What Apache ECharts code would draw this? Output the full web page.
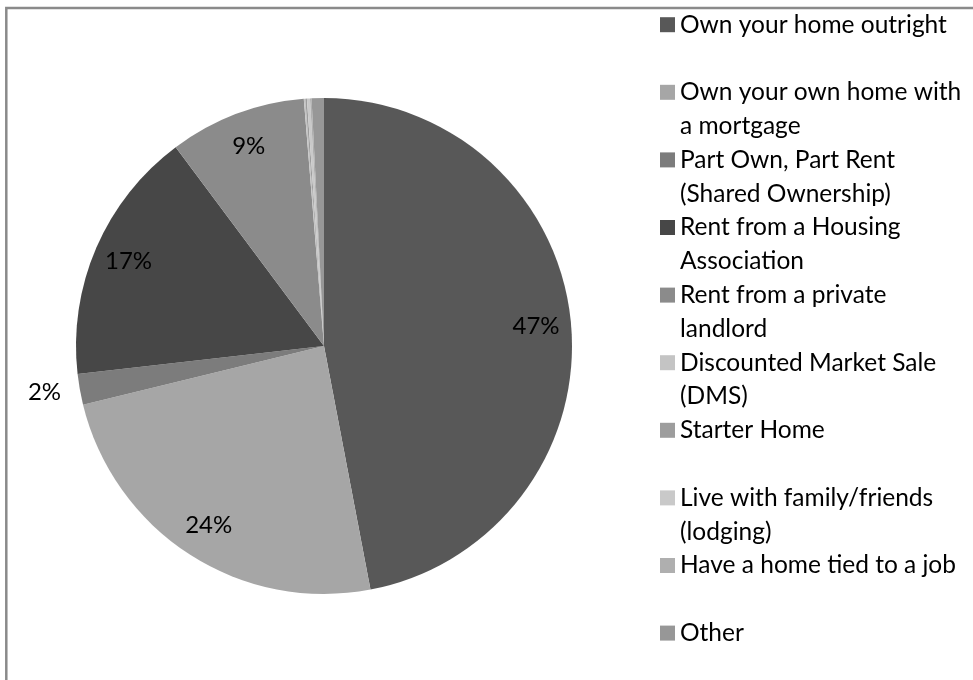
<!DOCTYPE html>
<html>
<head>
<meta charset="utf-8">
<script src="https://cdn.jsdelivr.net/npm/echarts@6/dist/echarts.min.js"></script>
<style>
  html, body { margin: 0; padding: 0; background: #ffffff; }
  #chart { width: 973px; height: 680px; }
</style>
</head>
<body>
<div id="chart"></div>
<script>
// Housing tenure, share of respondents (%)
const categories = [
  'Own your home outright',
  'Own your own home with a mortgage',
  'Part Own, Part Rent (Shared Ownership)',
  'Rent from a Housing Association',
  'Rent from a private landlord',
  'Discounted Market Sale (DMS)',
  'Starter Home',
  'Live with family/friends (lodging)',
  'Have a home tied to a job',
  'Other'
];
const shares = [47.0, 24.2, 2.0, 16.6, 8.9, 0.1, 0.1, 0.2, 0.1, 0.8];

// Legend text as it wraps in the key
const legendLines = [
  ['Own your home outright', ''],
  ['Own your own home with', 'a mortgage'],
  ['Part Own, Part Rent', '(Shared Ownership)'],
  ['Rent from a Housing', 'Association'],
  ['Rent from a private', 'landlord'],
  ['Discounted Market Sale', '(DMS)'],
  ['Starter Home', ''],
  ['Live with family/friends', '(lodging)'],
  ['Have a home tied to a job', ''],
  ['Other', '']
];

const sliceColors = [
  '#585858', '#a6a6a6', '#7c7c7c', '#474747', '#8b8b8b',
  '#c4c4c4', '#9d9d9d', '#c9c9c9', '#afafaf', '#979797'
];

const FONT = 'Lato, "Liberation Sans", sans-serif';
const LINE = 33.8;
const CX = 324, CY = 346, R = 248;

const chart = echarts.init(document.getElementById('chart'), null, { renderer: 'canvas' });

const legendMap = {};
categories.forEach((c, i) => { legendMap[c] = legendLines[i]; });

const sliceData = categories.map((name, i) => ({
  name: name,
  value: shares[i],
  itemStyle: { color: sliceColors[i] }
}));

// Percentage labels: large slices inside, thin ones just outside the rim
const labelData = categories.map((name, i) => ({
  name: name,
  value: shares[i],
  label: {
    show: shares[i] >= 1,
    position: shares[i] < 5 ? 'outside' : 'inside'
  },
  labelLine: { show: false, length: 14, length2: 0 }
}));

chart.setOption({
  animation: false,
  backgroundColor: '#ffffff',
  graphic: [{
    type: 'rect',
    shape: { x: 6.3, y: 7.9, width: 1200, height: 1000 },
    style: { fill: 'none', stroke: '#8a8a8a', lineWidth: 2.5 },
    silent: true
  }],
  legend: {
    orient: 'vertical',
    left: 660,
    top: -26,
    height: 2000,
    padding: 0,
    itemGap: -LINE,
    itemWidth: 15,
    itemHeight: 15,
    icon: 'rect',
    data: categories,
    formatter: function (name) {
      const l = legendMap[name];
      return '\n' + l[0] + '\n' + l[1];
    },
    textStyle: {
      fontFamily: FONT,
      fontSize: 24.5,
      lineHeight: LINE,
      color: '#000000'
    }
  },
  series: [
    {
      type: 'pie',
      center: [CX, CY],
      radius: R,
      startAngle: 90,
      clockwise: true,
      avoidLabelOverlap: false,
      label: { show: false },
      labelLine: { show: false },
      itemStyle: { borderWidth: 0 },
      emphasis: { disabled: true },
      data: sliceData
    },
    {
      type: 'pie',
      center: [CX, CY],
      radius: [172, R],
      startAngle: 90,
      clockwise: true,
      silent: true,
      avoidLabelOverlap: false,
      itemStyle: { color: 'rgba(0,0,0,0)', borderWidth: 0 },
      emphasis: { disabled: true },
      label: {
        fontFamily: FONT,
        fontSize: 24,
        color: '#000000',
        formatter: function (p) { return Math.round(p.value) + '%'; }
      },
      data: labelData
    }
  ]
});
</script>
</body>
</html>
